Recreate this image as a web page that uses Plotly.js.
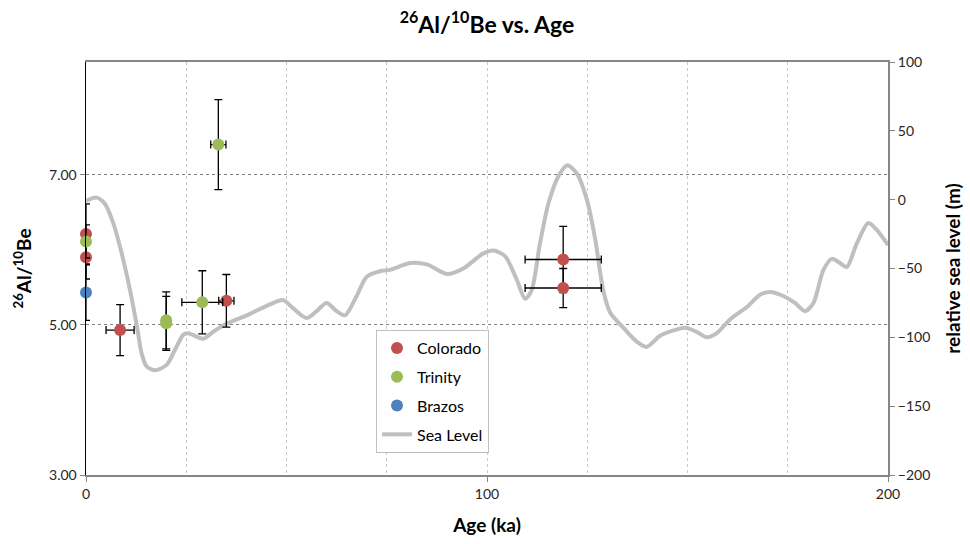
<!DOCTYPE html>
<html>
<head>
<meta charset="utf-8">
<script src="https://cdn.plot.ly/plotly-3.0.1.min.js"></script>
<style>html,body{margin:0;padding:0;background:#fff;}#chart{width:970px;height:544px;}</style>
</head>
<body>
<div id="chart"></div>
<script>
// Colorado samples
const coloradoAge = [0, 0, 8.5, 35, 119, 119];
const coloradoRatio = [6.21, 5.90, 4.93, 5.32, 5.87, 5.49];
const coloradoRatioErr = [0.40, 0.29, 0.34, 0.35, 0.44, 0.26];
const coloradoAgeErr = [0, 0, 3.5, 1.9, 9.5, 9.5];

// Trinity samples
const trinityAge = [0, 20, 20, 29, 33];
const trinityRatio = [6.11, 5.06, 5.02, 5.30, 7.40];
const trinityRatioErr = [0.22, 0.38, 0.36, 0.42, 0.60];
const trinityAgeErr = [0, 0, 0, 5.1, 1.9];

// Brazos samples
const brazosAge = [0];
const brazosRatio = [5.43];
const brazosRatioErr = [0.37];

// Sea level curve
const seaAge = [0, 2.7, 4.7, 6.8, 8.9, 11, 12.7, 13.9, 15.1, 17.2, 20.1, 22.2, 24.3, 25.5, 29.2, 31.7, 35.1, 40.1, 45.9, 49.2, 51.7, 55.0, 57.5, 60.0, 62.5, 64.6, 67.5, 70.0, 73.3, 75.8, 80.8, 85.0, 90.0, 94.1, 99.1, 101.6, 104.5, 107.4, 109.5, 111.1, 113.2, 115.3, 117.8, 120.0, 122.4, 124.9, 127.0, 129.0, 130.7, 134.0, 137.3, 139.8, 143.1, 146.5, 149.4, 152.3, 154.8, 157.3, 160.6, 164.8, 168.1, 170.6, 173.9, 176.8, 179.3, 181.4, 183.9, 186.0, 188.0, 189.7, 192.2, 195.1, 197.2, 200];
const seaLevel = [-1, 1.5, -3, -17, -39, -66, -92, -112, -121, -124, -120, -109, -98, -97, -101, -96, -90, -84, -76, -73, -79, -86, -81, -75, -81, -84, -70, -56, -52, -51, -46, -47, -54, -50, -39, -37, -41, -58, -72, -66, -32, -3, 17, 25, 19, 0, -29, -66, -82, -93, -103, -107, -99, -95, -93, -96, -100, -97, -87, -78, -69, -67, -70, -75, -81, -75, -51, -43, -46, -49, -32, -17, -22, -33];

// Axis labels
const ratioTickVals = [3, 5, 7];
const ageTickVals = [0, 100, 200];

const FONT = 'Lato, "Open Sans", sans-serif';
const TXT = '#262626';

function errBar(arr) {
  return {type: 'data', array: arr, visible: true, color: '#000', thickness: 1.3, width: 4};
}

const traces = [
  {
    name: 'Sea Level', x: seaAge, y: seaLevel, type: 'scatter', mode: 'lines',
    line: {color: '#BFBFBF', width: 4, shape: 'spline', smoothing: 0.8},
    xaxis: 'x', yaxis: 'y', legendrank: 4, legendgroup: 'g4'
  },
  {
    name: 'Colorado', x: coloradoAge, y: coloradoRatio, type: 'scatter', mode: 'markers',
    marker: {color: '#C0504D', size: 12}, cliponaxis: false,
    error_y: errBar(coloradoRatioErr), error_x: errBar(coloradoAgeErr),
    xaxis: 'x', yaxis: 'y2', legendrank: 1, legendgroup: 'g1'
  },
  {
    name: 'Trinity', x: trinityAge, y: trinityRatio, type: 'scatter', mode: 'markers',
    marker: {color: '#9BBB59', size: 12}, cliponaxis: false,
    error_y: errBar(trinityRatioErr), error_x: errBar(trinityAgeErr),
    xaxis: 'x', yaxis: 'y2', legendrank: 2, legendgroup: 'g2'
  },
  {
    name: 'Brazos', x: brazosAge, y: brazosRatio, type: 'scatter', mode: 'markers',
    marker: {color: '#4F81BD', size: 12}, cliponaxis: false,
    error_y: errBar(brazosRatioErr),
    xaxis: 'x', yaxis: 'y2', legendrank: 3, legendgroup: 'g3'
  }
];

const layout = {
  width: 970, height: 544,
  margin: {l: 86, r: 82, t: 62, b: 69},
  paper_bgcolor: '#fff', plot_bgcolor: '#fff',
  font: {family: FONT, size: 14, color: TXT},
  title: {
    text: '<sup>26</sup>Al/<sup>10</sup>Be vs. Age',
    font: {family: FONT, size: 23, color: '#000', weight: 'bold'},
    x: 0.502, xanchor: 'center', y: 0.955, yanchor: 'middle', yref: 'container'
  },
  showlegend: true,
  legend: {
    x: 0.3616, y: 0.351, xanchor: 'left', yanchor: 'top',
    bgcolor: '#fff', bordercolor: '#BFBFBF', borderwidth: 1,
    font: {family: FONT, size: 16, color: '#000'},
    traceorder: 'grouped', tracegroupgap: 5
  },
  xaxis: {
    range: [0, 200],
    tickmode: 'array', tickvals: ageTickVals,
    ticks: 'outside', ticklen: 5, tickcolor: '#868686',
    showline: true, linecolor: '#868686', linewidth: 2, mirror: true,
    showgrid: true, gridcolor: '#C8C8C8', griddash: '3px,3px', gridwidth: 1,
    minor: {dtick: 25, tick0: 0, showgrid: true, gridcolor: '#C8C8C8', griddash: '3px,3px', gridwidth: 1, ticks: ''},
    zeroline: false,
    tickfont: {family: FONT, size: 14, color: TXT},
    title: {text: 'Age (ka)', font: {family: FONT, size: 19, color: '#000', weight: 'bold'}, standoff: 18}
  },
  yaxis: {
    range: [-200, 100], side: 'right', dtick: 50, tick0: 0,
    ticks: 'outside', ticklen: 5, tickcolor: '#868686',
    showline: true, linecolor: '#868686', linewidth: 2,
    showgrid: false, zeroline: false,
    tickfont: {family: FONT, size: 14, color: TXT},
    title: {text: 'relative sea level (m)', font: {family: FONT, size: 19, color: '#000', weight: 'bold'}, standoff: 17}
  },
  yaxis2: {
    range: [3, 8.5], overlaying: 'y', side: 'left',
    tickmode: 'array', tickvals: ratioTickVals, tickformat: '.2f',
    ticks: 'outside', ticklen: 5, tickcolor: '#868686',
    showline: true, linecolor: '#000', linewidth: 1.5,
    showgrid: true, gridcolor: '#808080', griddash: 'dot', gridwidth: 1,
    zeroline: false,
    tickfont: {family: FONT, size: 14, color: TXT},
    title: {text: '<sup>26</sup>Al/<sup>10</sup>Be', font: {family: FONT, size: 19, color: '#000', weight: 'bold'}, standoff: 12}
  }
};

Plotly.newPlot('chart', traces, layout, {displayModeBar: false, staticPlot: true});
</script>
</body>
</html>
